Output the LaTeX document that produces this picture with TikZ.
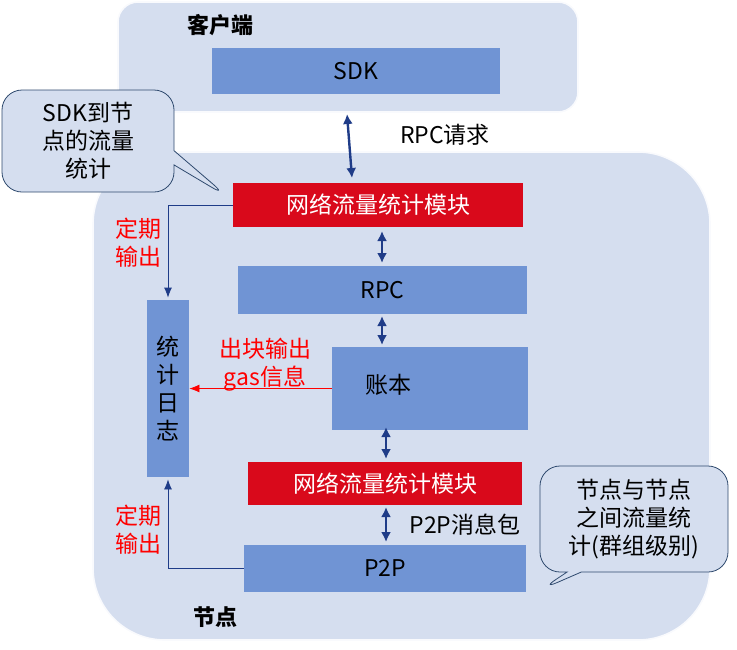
\documentclass[tikz,border=0pt]{standalone}
\usepackage{fontspec}
\setmainfont{Noto Sans CJK SC}
\usetikzlibrary{positioning,shapes.callouts,arrows.meta}
\definecolor{paleblue}{HTML}{D5DEEF}
\definecolor{midblue}{HTML}{7094D4}
\definecolor{boxred}{HTML}{D9091B}
\definecolor{darkblue}{HTML}{1F3C88}
\definecolor{callborder}{HTML}{2F4A6E}

\begin{document}
\begin{tikzpicture}[x=0.5pt,y=-0.5pt,font=\fontsize{11.5}{14}\selectfont,
  area/.style={fill=paleblue,draw=white!85!paleblue,thick},
  module/.style={fill=midblue,draw=none,inner sep=0pt},
  hot/.style={fill=boxred,draw=none,text=white,inner sep=0pt},
  link/.style={{Latex[length=5pt,width=5pt]}-{Latex[length=5pt,width=5pt]},darkblue,line width=1.2pt},
  feed/.style={-{Latex[length=5pt,width=4pt]},darkblue},
  note/.style={rectangle callout,rounded corners=10pt,fill=paleblue,draw=callborder,
    align=center,inner sep=0pt}]
  \useasboundingbox (0,0) rectangle (737,649);

  %% the two regions
  \draw[area,rounded corners=10pt] (118,2) rectangle (578,112);
  \node[font=\bfseries\fontsize{11}{13}\selectfont] (client) at (220,25) {客户端};
  \draw[area,rounded corners=36pt] (93,152) rectangle (710,640);
  \node[font=\bfseries\fontsize{11}{13}\selectfont] (peer) at (215,617) {节点};

  %% boxes
  \node[module,minimum width=144pt,minimum height=23pt] (sdk) at (356,71) {SDK};
  \node[hot,minimum width=145pt,minimum height=22pt] (meter1) at (378,205) {网络流量统计模块};
  \node[module,minimum width=144.5pt,minimum height=24pt] (rpc) at (382.5,290) {RPC};
  \node[module,minimum width=98pt,minimum height=41.5pt] (ledger) at (430,388.5) {};
  \node (ledgertext) at (388,385) {账本};
  \node[hot,minimum width=137pt,minimum height=21.5pt] (meter2) at (385,483.5) {网络流量统计模块};
  \node[module,minimum width=21pt,minimum height=88.5pt,align=center] (stats) at (168,388.5) {统\\计\\日\\志};
  \node[module,minimum width=141pt,minimum height=23.5pt] (ptp) at (385,568.5) {P2P};

  %% links
  \coordinate (s1) at (347,114);
  \coordinate (s2) at (352,178);
  \draw[link] (s1) -- (s2);
  \node (rpcreq) at (445,135) {RPC请求};
  \coordinate (a1) at (382,231);
  \coordinate (a2) at (382,263);
  \draw[link] (a1) -- (a2);
  \coordinate (b1) at (382,316);
  \coordinate (b2) at (382,345);
  \draw[link] (b1) -- (b2);
  \coordinate (c1) at (386,427);
  \coordinate (c2) at (386,459);
  \draw[link] (c1) -- (c2);
  \coordinate (d1) at (386,507);
  \coordinate (d2) at (386,542);
  \draw[link] (d1) -- (d2);
  \node (p2pmsg) at (465,525) {P2P消息包};

  %% feeds into the log
  \draw[feed] (meter1.west) -| ([yshift=1]stats.north);
  \node[red,align=center] (timed1) at (138,243) {定期\\输出};
  \draw[-{Latex[length=5pt,width=4pt]},red] (ledger.west) -- (stats.east);
  \node[red,align=center] (blockout) at (265,365) {出块输出\\gas信息};
  \draw[feed] (ptp.west) -| ([yshift=-1]stats.south);
  \node[red,align=center] (timed2) at (138,530) {定期\\输出};

  %% callouts
  \node[note,minimum width=86pt,minimum height=51pt,callout absolute pointer={(228,197)}]
    (note1) at (88,141) {SDK到节\\点的流量\\统计};
  \node[note,minimum width=94pt,minimum height=53pt,callout absolute pointer={(540,590)}]
    (note2) at (634,519) {节点与节点\\之间流量统\\计(群组级别)};
\end{tikzpicture}
\end{document}
